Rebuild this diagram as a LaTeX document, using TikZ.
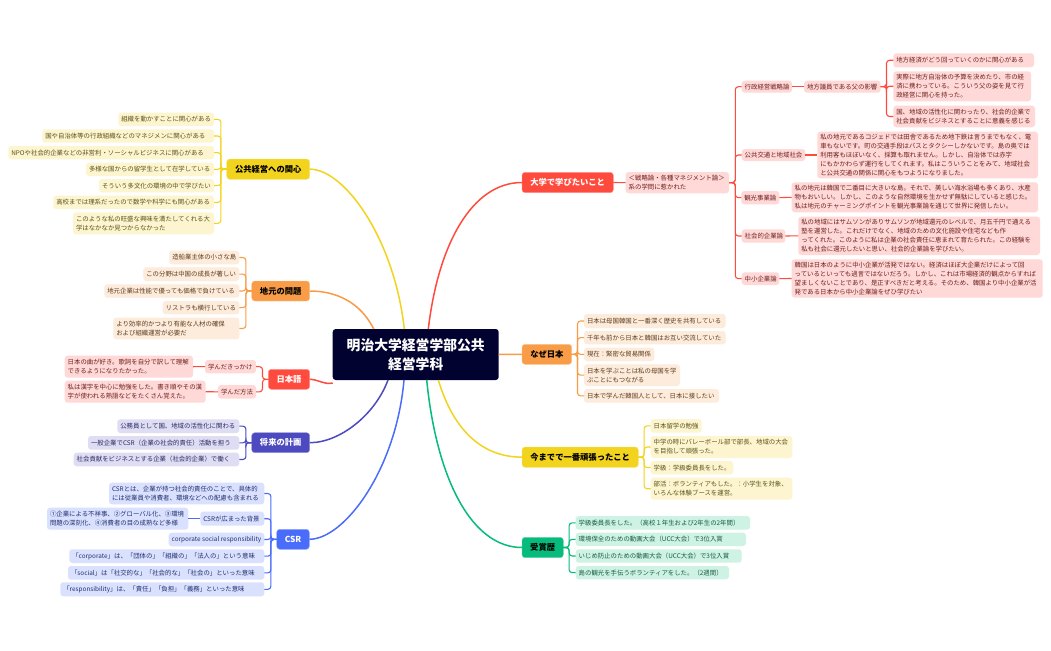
\documentclass[tikz,border=0pt]{standalone}
\usepackage{fontspec}
\setmainfont{Noto Sans CJK JP}
\definecolor{cred}{HTML}{FF4B3E}\definecolor{lred}{HTML}{FFD9D7}\definecolor{tred}{HTML}{6E1F1C}
\definecolor{corg}{HTML}{F89C47}\definecolor{lorg}{HTML}{FDEBDB}\definecolor{torg}{HTML}{5E3D1E}
\definecolor{cyel}{HTML}{F2D31D}\definecolor{lyel}{HTML}{FCF5D0}\definecolor{tyel}{HTML}{5C5318}
\definecolor{cind}{HTML}{4D4ABF}\definecolor{lind}{HTML}{DEDDF3}\definecolor{tind}{HTML}{2B2960}
\definecolor{cblu}{HTML}{4A6CFB}\definecolor{lblu}{HTML}{DAE1FE}\definecolor{tblu}{HTML}{213070}
\definecolor{cgrn}{HTML}{06BB7B}\definecolor{lgrn}{HTML}{CEF2E4}\definecolor{tgrn}{HTML}{175C44}
\definecolor{croot}{HTML}{020230}
\newcommand\nd[7][]{%
  \pgfmathsetmacro\ww{#5-#3}\pgfmathsetmacro\hh{#6-#4}%
  \pgfmathsetmacro\cx{(#3+#5)/2}\pgfmathsetmacro\cy{(#4+#6)/2}%
  \node[#1,minimum width=\ww pt,minimum height=\hh pt,text width=\ww pt-6pt] (#2) at (\cx,\cy) {#7};}
\newcommand\brr[3][]{\foreach \l in {#3} \draw[#1,rounded corners=3pt] (#2.east) -- ++(5.8,0) |- (\l.west);}
\newcommand\brl[3][]{\foreach \l in {#3} \draw[#1,rounded corners=3pt] (#2.west) -- ++(-5.8,0) |- (\l.east);}
\tikzset{
  basebox/.style={rectangle,rounded corners=3pt,inner sep=0pt,outer sep=0pt},
  leafbox/.style={basebox,font=\fontsize{6.4pt}{9pt}\selectfont,align=flush left},
  topicbox/.style={basebox,font=\fontsize{8.3pt}{10pt}\selectfont\bfseries,align=center},
  lfr/.style={leafbox,fill=lred,text=tred},lfo/.style={leafbox,fill=lorg,text=torg},
  lfy/.style={leafbox,fill=lyel,text=tyel},lfi/.style={leafbox,fill=lind,text=tind},
  lfb/.style={leafbox,fill=lblu,text=tblu},lfg/.style={leafbox,fill=lgrn,text=tgrn},
  tpr/.style={topicbox,fill=cred,draw=cred!60,line width=.4pt,text=white},
  tpo/.style={topicbox,fill=corg,draw=corg!60,line width=.4pt,text=black},
  tpy/.style={topicbox,fill=cyel,draw=cyel!60,line width=.4pt,text=black},
  tpi/.style={topicbox,fill=cind,draw=cind!60,line width=.4pt,text=white},
  tpb/.style={topicbox,fill=cblu,draw=cblu!60,line width=.4pt,text=white},
  tpg/.style={topicbox,fill=cgrn,draw=cgrn!60,line width=.4pt,text=black},
  lnr/.style={cred,line width=1.1pt},lno/.style={corg,line width=1.1pt},
  lny/.style={cyel,line width=1.1pt},lni/.style={cind,line width=1.1pt},
  lnb/.style={cblu,line width=1.1pt},lng/.style={cgrn,line width=1.1pt},
  mainln/.style={line width=1.5pt},
}
\begin{document}
\begin{tikzpicture}[x=1pt,y=-1pt]
\useasboundingbox (0,0) rectangle (1051,650);
\fill[white] (0,0) rectangle (1051,650);
% root
\nd[basebox,fill=croot,text=white,align=center,font=\fontsize{13.8pt}{19pt}\selectfont\bfseries]{root}{332.7}{329}{498.7}{380}{明治大学経営学部公共\\経営学科}
% red
\nd[tpr]{tA}{522}{172.3}{613.3}{192.7}{大学で学びたいこと}
\nd[lfr]{rs}{625.7}{172}{729}{193.3}{＜戦略論・各種マネジメント論＞\\系の学問に惹かれた}
\nd[lfr]{ra}{741.7}{80.7}{792}{92.7}{行政経営戦略論}
\nd[lfr]{raa}{804}{80.7}{880.7}{92.7}{地方議員である父の影響}
\nd[lfr]{ra1}{893.3}{53.3}{1034}{67.3}{地方経済がどう回っていくのかに関心がある}
\nd[lfr]{ra2}{893.3}{71.3}{1031}{101.3}{実際に地方自治体の予算を決めたり、市の経\\済に携わっている。こういう父の姿を見て行\\政経営に関心を持った。}
\nd[lfr]{ra3}{893.3}{105.7}{1035}{127.3}{国、地域の活性化に関わったり、社会的企業で\\社会貢献をビジネスとすることに意義を感じる}
\nd[lfr]{rb}{741.7}{149}{805.3}{161}{公共交通と地域社会}
\nd[lfr]{rb1}{817.3}{131.7}{1038}{178.3}{私の地元であるコジェドでは田舎であるため地下鉄は言うまでもなく、電\\車もないです。町の交通手段はバスとタクシーしかないです。島の奥では\\利用客もほぼいなく、採算も取れません。しかし、自治体では赤字\\にもかかわらず運行をしてくれます。私はこういうことをみて、地域社会\\と公共交通の関係に関心をもつようになりました。}
\nd[lfr]{rc}{741.3}{191}{779.3}{204.3}{観光事業論}
\nd[lfr]{rc1}{791.7}{182.3}{1038}{212.3}{私の地元は韓国で二番目に大きいな島。それで、美しい海水浴場も多くあり、水産\\物もおいしい。しかし、このような自然環境を生かせず無駄にしていると感じた。\\私は地元のチャーミングポイントを観光事業論を通じて世界に発信したい。}
\nd[lfr]{rd}{741.7}{229.3}{785.3}{242.7}{社会的企業論}
\nd[lfr]{rd1}{798.3}{216.7}{1040}{255}{私の地域にはサムソンがありサムソンが地域還元のレベルで、月五千円で通える\\塾を運営した。これだけでなく、地域のための文化施設や住宅なども作\\ってくれた。このように私は企業の社会責任に恵まれて育たられた。この経験を\\私も社会に還元したいと思い、社会的企業論を学びたい。}
\nd[lfr]{re}{741.7}{272.3}{779.3}{285}{中小企業論}
\nd[lfr]{re1}{791.7}{259.3}{1042.7}{297.7}{韓国は日本のように中小企業が活発ではない。経済はほぼ大企業だけによって回\\っているといっても過言ではないだろう。しかし、これは市場経済的観点からすれば\\望ましくないことであり、是正すべきだと考える。そのため、韓国より中小企業が活\\発である日本から中小企業論をぜひ学びたい}
% why japan
\nd[tpo]{tB}{522}{344.3}{571.7}{364.3}{なぜ日本}
\nd[lfo]{b1}{584}{314}{725.7}{328}{日本は母国韓国と一番深く歴史を共有している}
\nd[lfo]{b2}{584}{331}{725.7}{344.3}{千年も前から日本と韓国はお互い交流していた}
\nd[lfo]{b3}{584}{347.7}{654.3}{361}{現在：緊密な貿易関係}
\nd[lfo]{b4}{584}{364.3}{680}{386}{日本を学ぶことは私の母国を学\\ぶことにもつながる}
\nd[lfo]{b5}{584}{389}{719}{402.7}{日本で学んだ韓国人として、日本に接したい}
% hardest
\nd[tpy]{tC}{522}{447}{638.3}{467.3}{今までで一番頑張ったこと}
\nd[lfy]{c1}{650.7}{419}{701.7}{432.7}{日本留学の勉強}
\nd[lfy]{c2}{650.7}{436}{792.3}{458}{中学の時にバレーボール部で部長、地域の大会\\を目指して頑張った。}
\nd[lfy]{c3}{650.7}{461}{733.3}{474.3}{学級：学級委員長をした。}
\nd[lfy]{c4}{650.7}{477.7}{792.3}{499.7}{部活：ボランティアもした。：小学生を対象、\\いろんな体験ブースを運営。}
% awards
\nd[tpg]{tD}{522}{537.3}{563.3}{557.7}{受賞歴}
\nd[lfg]{d1}{575.7}{516}{750}{529.7}{学級委員長をした。（高校１年生および2年生の2年間）}
\nd[lfg]{d2}{575.7}{532.7}{746}{546}{環境保全のための動画大会（UCC大会）で3位入賞}
\nd[lfg]{d3}{575.7}{549.3}{741.7}{562.7}{いじめ防止のための動画大会（UCC大会）で3位入賞}
\nd[lfg]{d4}{575.7}{566}{729}{579.3}{島の観光を手伝うボランティアをした。（2週間）}
% public management
\nd[tpy]{tE}{226.7}{159}{309.7}{179.3}{公共経営への関心}
\nd[lfy]{e1}{118.3}{112.7}{214}{126}{組織を動かすことに関心がある}
\nd[lfy]{e2}{42.3}{129.3}{214}{142.7}{国や自治体等の行政組織などのマネジメンに関心がある}
\nd[lfy]{e3}{8.3}{146}{214}{159.3}{NPOや社会的企業などの非営利・ソーシャルビジネスに関心がある}
\nd[lfy]{e4}{86}{162.7}{214}{176}{多様な国からの留学生として在学している}
\nd[lfy]{e5}{99}{179}{214}{192.3}{そういう多文化の環境の中で学びたい}
\nd[lfy]{e6}{53.3}{195.7}{214}{209}{高校までは理系だったので数学や科学にも関心がある}
\nd[lfy]{e7}{73}{212.3}{214}{234.3}{このような私の旺盛な興味を満たしてくれる大\\学はなかなか見つからなかった}
% local issues
\nd[tpo]{tF}{251.7}{281}{309.7}{301}{地元の問題}
\nd[lfo]{f1}{169.3}{250.7}{239.3}{264.3}{造船業主体の小さな島}
\nd[lfo]{f2}{143.3}{267.3}{239.3}{281}{この分野は中国の成長が著しい}
\nd[lfo]{f3}{104.3}{284.3}{239.3}{297.7}{地元企業は性能で優っても価格で負けている}
\nd[lfo]{f4}{162.7}{301}{239.3}{314.3}{リストラも横行している}
\nd[lfo]{f5}{113.3}{317.7}{239.3}{339.3}{より効率的かつより有能な人材の確保\\および組織運営が必要だ}
% japanese
\nd[tpr]{tG}{268.3}{369.3}{309.7}{389.3}{日本語}
\nd[lfr]{g1}{205}{360}{256}{373.3}{学んだきっかけ}
\nd[lfr]{g2}{218}{385}{256}{398.7}{学んだ方法}
\nd[lfr]{g1a}{64.7}{355.7}{193}{377.7}{日本の曲が好き。歌詞を自分で訳して理解\\できるようになりたかった。}
\nd[lfr]{g2a}{64.7}{380.7}{205.7}{402.7}{私は漢字を中心に勉強をした。書き順やその漢\\字が使われる熟語などをたくさん覚えた。}
% future
\nd[tpi]{tH}{251.7}{432.7}{309.7}{452.7}{将来の計画}
\nd[lfi]{h1}{117.3}{419.3}{239.3}{433}{公務員として国、地域の活性化に関わる}
\nd[lfi]{h2}{88}{436}{239.3}{449.7}{一般企業でCSR（企業の社会的責任）活動を担う}
\nd[lfi]{h3}{73.7}{452.7}{239.3}{466.3}{社会貢献をビジネスとする企業（社会的企業）で働く}
% CSR
\nd[tpb]{tI}{276.7}{529.3}{309.3}{549.3}{CSR}
\nd[lfb]{i1}{109}{482.7}{264.3}{504.3}{CSRとは、企業が持つ社会的責任のことで、具体的\\には従業員や消費者、環境などへの配慮も含まれる}
\nd[lfb]{i2}{200.3}{511.7}{264.3}{525.7}{CSRが広まった背景}
\nd[lfb]{i2a}{47}{507.7}{188.3}{529.7}{①企業による不祥事、②グローバル化、③環境\\問題の深刻化、④消費者の目の成熟など多様}
\nd[lfb]{i3}{168.7}{532.7}{264.3}{546.3}{corporate social responsibility}
\nd[lfb]{i4}{69.3}{549.3}{264.3}{563}{「corporate」は、「団体の」「組織の」「法人の」という意味}
\nd[lfb]{i5}{68}{566}{264.3}{579.7}{「social」は「社交的な」「社会的な」「社会の」といった意味}
\nd[lfb]{i6}{60.3}{582.3}{264.3}{596.3}{「responsibility」は、「責任」「負担」「義務」といった意味}
% main curves
\draw[cred,mainln] ([xshift=95.6pt]root.north west) .. controls +(10,-85) and +(-50,0) .. (tA.west);
\draw[corg,mainln] (root.east) -- (tB.west);
\draw[cyel,mainln] ([xshift=105.6pt]root.south west) .. controls +(15,50) and +(-40,0) .. (tC.west);
\draw[cgrn,mainln] ([xshift=94pt]root.south west) .. controls +(10,100) and +(-50,0) .. (tD.west);
\draw[cyel,mainln] ([xshift=71.6pt]root.north west) .. controls +(-10,-90) and +(35,0) .. (tE.east);
\draw[corg,mainln] ([xshift=41pt]root.north west) .. controls +(-14,-28) and +(25,0) .. (tF.east);
\draw[cred,mainln] ([yshift=-3pt]root.south west) .. controls +(-8,2) and +(8,0) .. (tG.east);
\draw[cind,mainln] ([xshift=55.3pt]root.south west) .. controls +(-13,35) and +(30,0) .. (tH.east);
\draw[cblu,mainln] ([xshift=71.3pt]root.south west) .. controls +(-8,90) and +(35,0) .. (tI.east);
% branches
\draw[lnr] (tA.east) -- (rs.west);
\foreach \l in {ra,rb,rc,rd,re} \draw[lnr,rounded corners=3pt] (rs.east) -- ++(6.3,0) |- (\l.west);
\draw[lnr] (ra.east) -- (raa.west);
\brr[lnr]{raa}{ra1,ra2,ra3}
\draw[lnr] (rb.east) -- (rb1.west);
\draw[lnr] (rc.east) -- (rc1.west);
\draw[lnr] (rd.east) -- (rd1.west);
\draw[lnr] (re.east) -- (re1.west);
\brr[lno]{tB}{b1,b2,b3,b4,b5}
\brr[lny]{tC}{c1,c2,c3,c4}
\brr[lng]{tD}{d1,d2,d3,d4}
\brl[lny]{tE}{e1,e2,e3,e4,e5,e6,e7}
\brl[lno]{tF}{f1,f2,f3,f4,f5}
\brl[lnr]{tG}{g1,g2}
\draw[lnr] (g1.west) -- (g1a.east);
\draw[lnr] (g2.west) -- (g2a.east);
\brl[lni]{tH}{h1,h2,h3}
\brl[lnb]{tI}{i1,i2,i3,i4,i5,i6}
\draw[lnb] (i2.west) -- (i2a.east);
\end{tikzpicture}
\end{document}
